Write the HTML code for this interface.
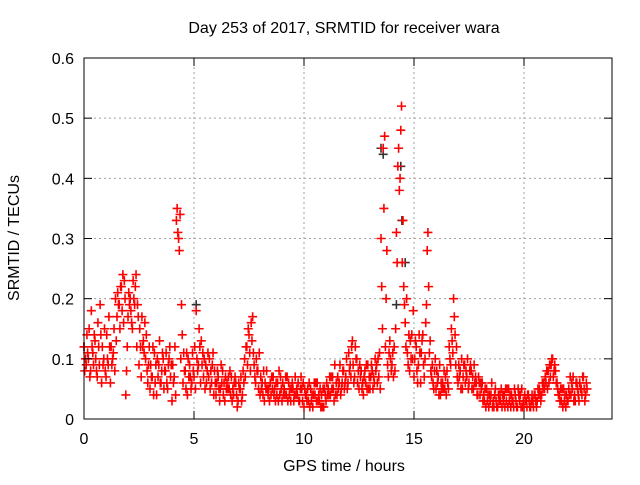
<!DOCTYPE html>
<html><head><meta charset="utf-8"><style>
body{margin:0;background:#fff;}
svg text{font-family:"Liberation Sans",sans-serif;font-size:16px;fill:#000;}
</style></head><body>
<svg id="chart" width="640" height="480" viewBox="0 0 640 480">
<text x="344" y="33" text-anchor="middle">Day 253 of 2017, SRMTID for receiver wara</text>
<text x="344" y="471" text-anchor="middle">GPS time / hours</text>
<text transform="translate(19,238) rotate(-90)" text-anchor="middle">SRMTID / TECUs</text>
<g id="grid"></g>
<g id="marks"></g>
<rect x="84" y="58" width="528" height="361" fill="none" stroke="#000" stroke-width="1"/>
<g id="axes"></g>
</svg>
<script>
const xTicks=[0,5,10,15,20];
const yTicks=[0,0.1,0.2,0.3,0.4,0.5,0.6];
const yTickLabels=["0","0.1","0.2","0.3","0.4","0.5","0.6"];
const seriesA=[.12,.09,.10,.08,.11,.13,.07,.09,.06,.10, .07,.09,.06,.10,.08,.17,.19,.22,.16,.04, .17,.20,.15,.19,.12,.09,.07,.13,.10,.06, .05,.07,.11,.04,.09,.06,.10,.08,.05,.12, .03,.07,.33,.30,.10,.06,.08,.04,.09,.06, .07,.18,.09,.06,.11,.05,.08,.10,.06,.04, .04,.07,.05,.08,.03,.06,.05,.07,.04,.06, .03,.05,.04,.10,.12,.14,.16,.11,.06,.08, .04,.06,.03,.08,.05,.04,.07,.03,.06,.04, .03,.05,.04,.06,.03,.05,.07,.04,.03,.05, .02,.04,.03,.05,.02,.04,.06,.03,.04,.02, .03,.05,.04,.07,.09,.04,.06,.05,.08,.07, .06,.09,.13,.07,.10,.05,.08,.04,.06,.09, .05,.08,.06,.09,.07,.30,.45,.12,.09,.13, .09,.12,.31,.45,.48,.33,.16,.11,.08,.14, .07,.12,.09,.06,.14,.10,.28,.11,.07,.05, .05,.07,.04,.06,.05,.08,.12,.15,.20,.09, .06,.08,.05,.09,.07,.06,.08,.05,.07,.04, .04,.06,.03,.05,.02,.04,.03,.05,.02,.04, .02,.04,.03,.05,.02,.03,.04,.02,.03,.05, .02,.03,.04,.02,.03,.04,.03,.05,.04,.06, .06,.08,.07,.10,.09,.06,.04,.03,.05,.02, .03,.07,.05,.04,.06,.03,.05,.07,.04];
const seriesB=[.08,.14,.15,.18,.09,.10,.16,.19,.12,.15, .14,.17,.12,.11,.20,.21,.15,.18,.23,.08, .21,.18,.23,.22,.19,.15,.17,.11,.14,.09, .09,.12,.06,.10,.13,.08,.05,.11,.09,.07, .09,.12,.35,.28,.19,.11,.05,.10,.07,.11, .12,.10,.15,.13,.07,.09,.11,.05,.09,.08, .06,.05,.09,.04,.07,.05,.08,.03,.06,.04, .06,.07,.08,.07,.09,.11,.13,.09,.10,.05, .07,.04,.06,.05,.03,.07,.04,.06,.03,.07, .06,.04,.07,.04,.05,.03,.04,.06,.05,.03, .05,.03,.06,.03,.04,.06,.03,.05,.02,.05, .06,.04,.07,.05,.04,.07,.09,.06,.05,.10, .11,.07,.09,.12,.06,.09,.05,.07,.09,.05, .07,.05,.10,.06,.11,.22,.35,.20,.07,.10, .11,.08,.26,.38,.52,.22,.12,.09,.13,.10, .10,.08,.14,.11,.09,.16,.31,.13,.09,.08, .08,.04,.06,.05,.07,.06,.10,.13,.17,.12, .09,.05,.07,.06,.10,.08,.05,.09,.06,.07, .06,.03,.05,.03,.04,.06,.02,.03,.04,.03, .04,.02,.05,.03,.04,.02,.03,.05,.04,.02, .04,.02,.03,.03,.02,.03,.05,.04,.06,.05, .08,.06,.09,.07,.08,.05,.03,.05,.03,.04, .05,.04,.07,.03,.05,.06,.04,.05,.06];
const seriesC=[.10,.11,.07,.12,.14,.08,.12,.14,.09,.08, .10,.12,.09,.15,.13,.19,.22,.24,.20,.12, .19,.16,.20,.24,.17,.12,.12,.16,.08,.12, .07,.04,.09,.07,.06,.11,.08,.06,.10,.09, .06,.04,.31,.34,.14,.08,.11,.07,.05,.08, .05,.08,.12,.09,.10,.06,.07,.08,.11,.06, .08,.03,.06,.06,.05,.07,.04,.05,.07,.02, .05,.03,.06,.12,.15,.08,.17,.07,.08,.11, .05,.08,.05,.04,.06,.05,.05,.04,.08,.05, .04,.07,.03,.05,.06,.04,.05,.03,.07,.06, .04,.05,.02,.04,.06,.03,.04,.02,.05,.04, .04,.07,.05,.03,.06,.05,.04,.08,.06,.05, .08,.12,.06,.10,.08,.07,.06,.08,.05,.07, .09,.07,.08,.10,.05,.15,.47,.28,.11,.08, .07,.15,.42,.40,.26,.19,.20,.14,.10,.18, .13,.06,.11,.13,.07,.19,.22,.08,.06,.10, .06,.09,.05,.08,.04,.05,.09,.11,.14,.07, .07,.10,.09,.08,.05,.09,.07,.06,.04,.06, .05,.04,.02,.04,.03,.02,.04,.02,.03,.05, .03,.05,.02,.04,.03,.05,.02,.04,.02,.03, .03,.04,.02,.04,.04,.02,.04,.03,.05,.07, .05,.09,.10,.08,.06,.04,.05,.02,.04,.03, .04,.06,.03,.06,.04,.05,.07,.03,.05];
const darkHours=[0.0,5.1,13.5,13.6,14.4,14.45,14.6,14.2];
const darkValues=[0.12,0.19,0.45,0.44,0.42,0.33,0.26,0.19];

const NS="http://www.w3.org/2000/svg";
const X0=84,X1=612,Y0=419,Y1=58,XMAX=24,YMAX=0.6;
function sx(h){return X0+(h/XMAX)*(X1-X0);}
function sy(v){return Y0-(v/YMAX)*(Y0-Y1);}
const grid=document.getElementById('grid'),axes=document.getElementById('axes'),marks=document.getElementById('marks');
function mk(tag,attrs,parent){const e=document.createElementNS(NS,tag);for(const k in attrs)e.setAttribute(k,attrs[k]);parent.appendChild(e);return e;}
yTicks.forEach((v,i)=>{
  const y=sy(v);
  if(i>0&&i<yTicks.length-1){const g=mk('line',{x1:X0,x2:X1,y1:y,y2:y,stroke:'#a0a0a0','stroke-dasharray':'2,3'},grid);
  
  }
  mk('line',{x1:X0,x2:X0+8,y1:y,y2:y,stroke:'#000'},axes);
  mk('line',{x1:X1,x2:X1-8,y1:y,y2:y,stroke:'#000'},axes);
  const t=mk('text',{x:X0-10,y:y+6,'text-anchor':'end'},axes);t.textContent=yTickLabels[i];
  
  
});
xTicks.forEach(h=>{
  const x=sx(h);
  if(h>0){const g=mk('line',{x1:x,x2:x,y1:Y0,y2:Y1,stroke:'#a0a0a0','stroke-dasharray':'2,3'},grid);
  
  }
  mk('line',{x1:x,x2:x,y1:Y0,y2:Y0-8,stroke:'#000'},axes);
  mk('line',{x1:x,x2:x,y1:Y1,y2:Y1+8,stroke:'#000'},axes);
  const t=mk('text',{x:x,y:Y0+25,'text-anchor':'middle'},axes);t.textContent=String(h);
  
  
});
function plus(h,v,color){
  const x=sx(h),y=sy(v),s=4.5;
  const p=mk('path',{d:`M${x-s},${y}H${x+s}M${x},${y-s}V${y+s}`,stroke:color,'stroke-width':1.6,fill:'none'},marks);
  
  
}
darkValues.forEach((v,i)=>plus(darkHours[i],v,'#333'));
[seriesA,seriesB,seriesC].forEach((arr,k)=>{
  arr.forEach((v,i)=>plus(i/10+k*0.033,v,'#ff0000'));
});
</script>
</body></html>
